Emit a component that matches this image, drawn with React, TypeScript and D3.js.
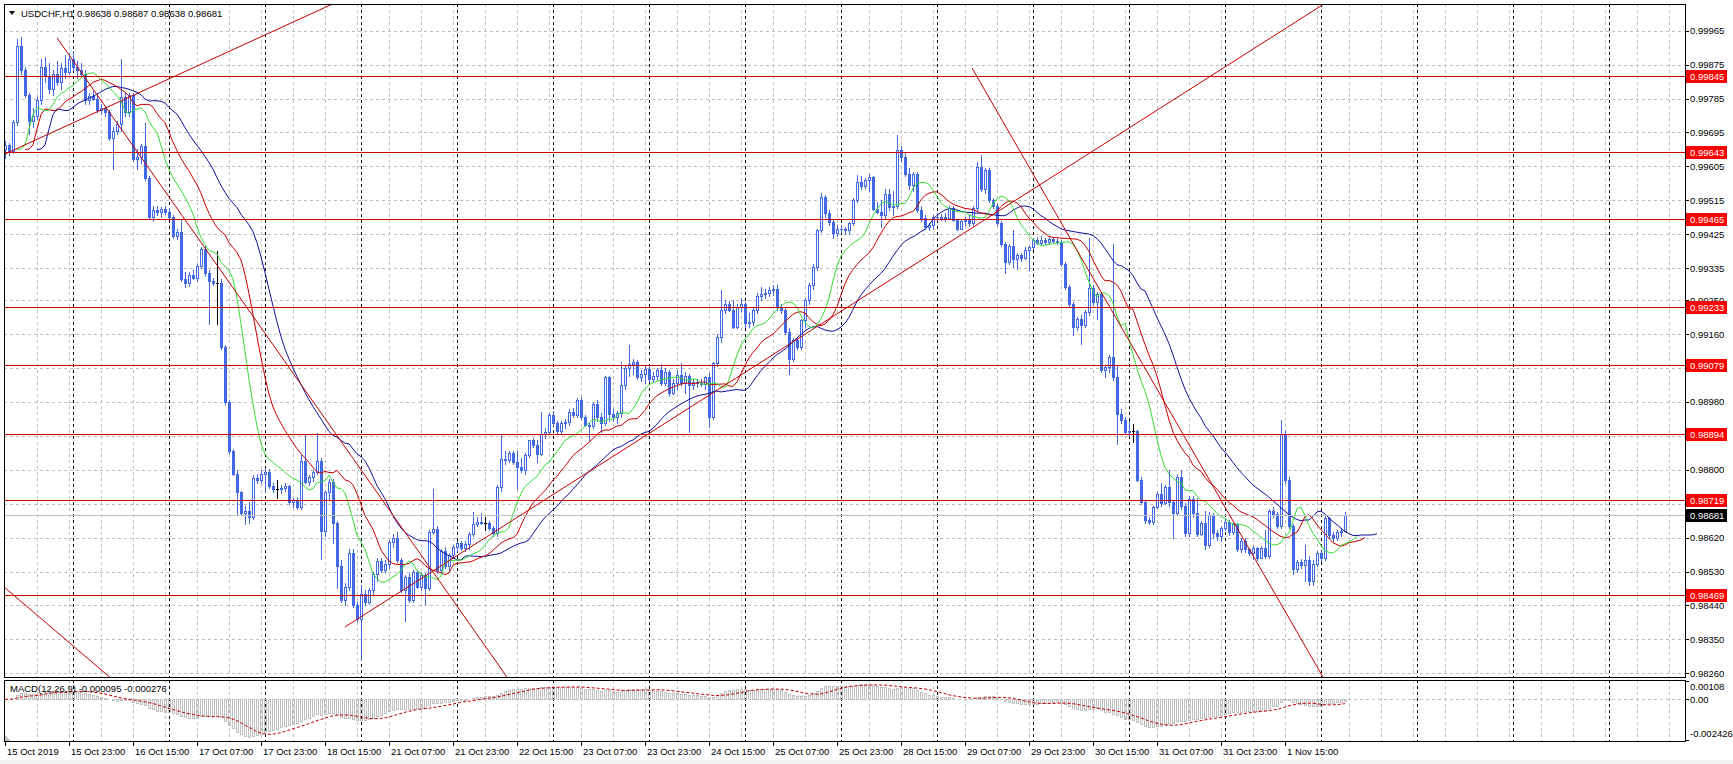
import React from 'react';
import * as d3 from 'd3';

// price = 0.98 + value / 100000
const BASE = 0.98;
const OPEN = [1650,1662,1645,1722,1925,1860,1795,1725,1740,1780,1870,1845,1810,1850,1830,1865,1855,1890,1870,1862,1850,1780,1792,1785,1755,1760,1748,1680,1700,1718,1790,1750,1795,1625,1630,1660,1575,1470,1490,1485,1492,1484,1470,1420,1432,1305,1295,1318,1310,1340,1385,1322,1300,1296,1296,1126,980,850,790,741,684,690,675,779,772,790,795,757,748,748,752,757,714,720,700,822,768,780,795,822,638,740,768,660,546,455,490,580,440,405,470,450,480,524,559,535,550,608,620,560,480,515,455,528,490,522,485,635,642,533,585,545,575,595,605,592,603,630,657,661,660,660,645,632,754,829,825,845,820,807,800,840,878,866,843,896,900,945,925,902,925,927,953,945,985,940,918,915,975,940,925,1046,949,940,950,1024,1070,1080,1085,1046,1055,1068,1040,1050,1065,1030,1060,1005,1030,1052,1030,1050,1025,1033,1030,1028,1045,940,1082,1153,1223,1241,1225,1179,1232,1241,1190,1192,1223,1260,1266,1270,1277,1280,1232,1225,1166,1095,1144,1126,1197,1250,1290,1339,1436,1524,1480,1458,1427,1440,1438,1436,1454,1516,1564,1552,1568,1577,1493,1485,1476,1533,1498,1500,1648,1631,1586,1555,1585,1489,1467,1445,1449,1471,1470,1472,1468,1495,1462,1440,1460,1462,1455,1495,1604,1545,1595,1515,1500,1454,1400,1352,1395,1360,1370,1362,1383,1390,1409,1402,1410,1405,1412,1408,1405,1347,1285,1241,1179,1200,1185,1219,1281,1245,1266,1064,1072,1100,1046,949,931,900,902,902,772,715,666,662,700,735,712,755,715,686,780,705,632,722,685,630,660,600,680,632,625,645,662,635,655,590,612,590,580,592,566,592,570,690,682,650,896,772,650,537,555,548,560,505,550,580,565,672,628,620,635,638];
const HIGH = [1672,1668,1728,1944,1948,1870,1800,1760,1790,1890,1895,1880,1860,1885,1880,1900,1905,1910,1885,1880,1860,1800,1805,1795,1770,1765,1755,1710,1725,1890,1800,1800,1800,1650,1665,1720,1580,1500,1500,1498,1500,1495,1475,1440,1465,1325,1325,1330,1345,1390,1395,1330,1310,1381,1305,1130,985,855,800,745,705,714,785,790,800,805,802,765,774,760,765,760,725,728,840,893,785,800,898,830,745,775,775,665,560,500,590,590,450,495,480,485,530,565,565,560,615,630,635,565,520,525,535,535,530,525,640,750,650,590,595,580,600,610,612,610,635,688,675,684,675,665,650,760,896,850,850,850,850,830,845,880,885,878,953,910,950,955,930,930,935,960,965,990,992,945,925,980,985,950,1050,1050,960,955,1086,1075,1130,1095,1090,1065,1075,1075,1060,1070,1080,1070,1065,1040,1065,1082,1060,1055,1040,1040,1042,1050,1058,1085,1160,1277,1250,1248,1250,1240,1255,1245,1215,1230,1268,1285,1280,1285,1290,1290,1240,1230,1175,1150,1150,1200,1255,1295,1345,1440,1535,1530,1490,1465,1450,1450,1445,1458,1520,1582,1580,1575,1585,1580,1510,1515,1545,1545,1540,1688,1660,1640,1600,1590,1590,1500,1475,1455,1475,1480,1478,1480,1500,1500,1465,1465,1470,1475,1500,1617,1635,1600,1600,1520,1505,1460,1405,1400,1436,1375,1375,1390,1395,1415,1418,1420,1415,1420,1415,1412,1410,1350,1290,1245,1205,1210,1225,1414,1290,1272,1270,1078,1105,1400,1075,960,940,930,922,905,780,720,675,705,740,765,760,800,720,790,800,712,730,730,725,665,690,688,685,640,652,670,668,660,658,620,620,592,598,595,598,640,695,700,688,931,905,780,655,560,562,600,572,560,585,585,680,675,635,640,645,687];
const LOW = [1628,1635,1640,1715,1850,1790,1690,1710,1730,1770,1830,1800,1795,1820,1810,1840,1850,1860,1840,1845,1770,1770,1780,1750,1745,1740,1675,1598,1690,1700,1740,1740,1620,1597,1615,1570,1465,1460,1475,1470,1478,1465,1415,1412,1300,1285,1288,1305,1300,1335,1315,1186,1290,1186,1120,975,845,785,682,680,655,660,670,765,765,740,752,740,725,738,745,710,700,695,695,765,760,770,790,563,625,720,606,487,450,440,480,436,400,296,440,445,470,505,530,530,540,595,555,475,400,450,450,485,480,445,480,630,525,525,540,535,565,585,588,585,590,625,650,655,640,640,625,625,745,815,820,815,750,795,790,835,860,820,840,885,895,920,895,895,910,920,940,940,935,915,880,910,930,900,920,930,930,925,940,1015,1050,1055,1040,1035,1030,1035,1035,1040,1025,1025,995,1000,1015,1025,1005,900,1015,1020,1022,1015,914,935,1075,1140,1215,1220,1175,1175,1220,1180,1180,1185,1215,1250,1255,1262,1265,1225,1215,1160,1055,1088,1120,1120,1180,1240,1280,1330,1430,1470,1450,1415,1420,1430,1425,1425,1450,1510,1545,1548,1540,1490,1480,1445,1465,1490,1475,1495,1620,1580,1545,1540,1485,1460,1440,1435,1440,1462,1462,1460,1465,1460,1435,1440,1450,1448,1450,1490,1540,1535,1510,1495,1450,1395,1321,1345,1338,1334,1355,1358,1330,1385,1398,1398,1400,1398,1402,1398,1340,1280,1235,1157,1170,1135,1180,1210,1238,1200,1060,1046,1060,1038,869,925,895,890,874,770,710,660,655,655,698,705,708,705,620,680,695,625,625,675,625,628,590,595,620,615,610,640,628,630,585,583,583,574,562,560,565,565,565,675,645,645,765,645,524,530,540,505,495,495,545,558,560,620,612,615,625,638];
const CLOSE = [1662,1645,1722,1925,1860,1795,1725,1740,1780,1870,1845,1810,1850,1830,1865,1855,1890,1870,1862,1850,1780,1792,1785,1755,1760,1748,1680,1700,1718,1790,1750,1795,1625,1630,1660,1575,1470,1490,1485,1492,1484,1470,1420,1432,1305,1295,1318,1310,1340,1385,1322,1300,1296,1296,1126,980,850,790,741,684,690,675,779,772,790,795,757,748,748,752,757,714,720,700,822,768,780,795,822,638,740,768,660,546,455,490,580,440,405,470,450,480,524,559,535,550,608,620,560,480,515,455,528,490,522,485,635,642,533,585,545,575,595,605,592,603,630,657,661,660,660,645,632,754,829,825,845,820,807,800,840,878,866,843,896,900,945,925,902,925,927,953,945,985,940,918,915,975,940,925,1046,949,940,950,1024,1070,1080,1085,1046,1055,1068,1040,1050,1065,1030,1060,1005,1030,1052,1030,1050,1025,1033,1030,1028,1045,940,1082,1153,1223,1241,1225,1179,1232,1241,1190,1192,1223,1260,1266,1270,1277,1280,1232,1225,1166,1095,1144,1126,1197,1250,1290,1339,1436,1524,1480,1458,1427,1440,1438,1436,1454,1516,1564,1552,1568,1577,1493,1485,1476,1533,1498,1500,1648,1631,1586,1555,1585,1489,1467,1445,1449,1471,1470,1472,1468,1495,1462,1440,1460,1462,1455,1495,1604,1545,1595,1515,1500,1454,1400,1352,1395,1360,1370,1362,1383,1390,1409,1402,1410,1405,1412,1408,1405,1347,1285,1241,1179,1200,1185,1219,1281,1245,1266,1064,1072,1100,1046,949,931,900,902,902,772,715,666,662,700,735,712,755,715,686,780,705,632,722,685,630,660,600,680,632,625,645,662,635,655,590,612,590,580,592,566,592,570,690,682,650,896,772,650,537,555,548,560,505,550,580,565,672,628,620,635,638,681];

const Y_TICKS = ['0.99965','0.99875','0.99785','0.99695','0.99605','0.99515','0.99425','0.99335','0.99250','0.99160','0.99070','0.98980','0.98890','0.98800','0.98710','0.98620','0.98530','0.98440','0.98350','0.98260'];
const H_LINES = [0.99845, 0.99643, 0.99465, 0.99233, 0.99079, 0.98894, 0.98719, 0.98469];
const LAST_PRICE = 0.98681;
const TIME_LABELS = ['15 Oct 2019','15 Oct 23:00','16 Oct 15:00','17 Oct 07:00','17 Oct 23:00','18 Oct 15:00','21 Oct 07:00','21 Oct 23:00','22 Oct 15:00','23 Oct 07:00','23 Oct 23:00','24 Oct 15:00','25 Oct 07:00','25 Oct 23:00','28 Oct 15:00','29 Oct 07:00','29 Oct 23:00','30 Oct 15:00','31 Oct 07:00','31 Oct 23:00','1 Nov 15:00'];
const MACD_TICKS = [0.00108, 0, -0.002426];
const MACD_TICK_TEXT = ['0.00108', '0.00', '-0.002426'];
// trend lines: [[barIndex, price], [barIndex, price]]
const TRENDS: [number, number][][] = [
  [[-1, 0.99633], [85, 1.00051]],
  [[13, 0.99946], [125.5, 0.98250]],
  [[-1, 0.98496], [26.25, 0.98249]],
  [[85, 0.98383], [329.75, 1.00036]],
  [[241.75, 0.99866], [329.5, 0.98250]],
];
const TITLE = 'USDCHF,H1  0.98638 0.98687 0.98638 0.98681';
const MACD_TITLE = 'MACD(12,26,9) -0.000095 -0.000276';

const FONT = '"Liberation Sans", Arial, sans-serif';
const FS = 9.5;

function smma(src: number[], n: number) {
  const out: number[] = [];
  let sum = 0;
  for (let i = 0; i < src.length; i++) {
    if (i < n) { sum += src[i]; out.push(sum / (i + 1)); }
    else out.push((out[i - 1] * (n - 1) + src[i]) / n);
  }
  return out;
}
function ema(src: number[], n: number) {
  const a = 2 / (n + 1);
  const out: number[] = [];
  src.forEach((v, i) => out.push(i === 0 ? v : out[i - 1] + a * (v - out[i - 1])));
  return out;
}
function sma(src: number[], n: number) {
  return src.map((_, i) => {
    const s = src.slice(Math.max(0, i - n + 1), i + 1);
    return d3.mean(s) as number;
  });
}

export default function App() {
  const L = 4, R = 1685, T = 4, MB = 677, PT = 680, PB = 741;
  const N = CLOSE.length;
  const x = d3.scaleLinear().domain([0, N - 1]).range([5, 5 + 4 * (N - 1)]);
  const y = d3.scaleLinear().domain([0.98260, 0.99965]).range([673.3, 30.7]);
  const my = d3.scaleLinear().domain([-0.002426, 0.00108]).range([740, 681]);
  const P = (v: number) => BASE + v / 100000;

  const o = OPEN.map(P), h = HIGH.map(P), l = LOW.map(P), c = CLOSE.map(P);
  const med = h.map((v, i) => (v + l[i]) / 2);
  const jaw = smma(med, 13), teeth = smma(med, 8), lips = smma(med, 5);
  const e12 = ema(c, 12), e26 = ema(c, 26);
  const macd = e12.map((v, i) => v - e26[i]);
  const signal = sma(macd, 9);

  const lineGen = (shift: number) => d3.line<number>().x((_, i) => x(i + shift)).y(v => y(v));
  const sigGen = d3.line<number>().x((_, i) => x(i)).y(v => my(v));

  const gridX: number[] = [];
  for (let i = 8; x(i) < R; i += 8) gridX.push(x(i));
  const sepX: number[] = [];
  for (let i = 17; x(i) < R; i += 24) sepX.push(x(i));

  const vlines = (ys: [number, number][]) => (
    <g>
      {gridX.map((gx, k) => ys.map((yy, j) => (
        <line key={'g' + k + '_' + j} x1={gx + 0.5} x2={gx + 0.5} y1={yy[0]} y2={yy[1]} stroke="#c0c0c0" strokeDasharray="3,3" />
      )))}
      {sepX.map((sx, k) => ys.map((yy, j) => (
        <line key={'s' + k + '_' + j} x1={sx + 0.5} x2={sx + 0.5} y1={yy[0]} y2={yy[1]} stroke="#000" strokeDasharray="3,3" />
      )))}
    </g>
  );

  const tagW = 41;

  return (
    <svg width={1733} height={764} style={{ position: 'absolute', left: 0, top: 0, display: 'block', background: '#fff' }} fontFamily={FONT} fontSize={FS}>
      <defs>
        <clipPath id="mainClip"><rect x={L} y={T} width={R - L} height={MB - T} /></clipPath>
        <clipPath id="macdClip"><rect x={L} y={PT} width={R - L} height={PB - PT} /></clipPath>
      </defs>
      <rect x={0} y={0} width={1733} height={764} fill="#fff" />
      <rect x={0} y={760} width={1733} height={4} fill="#f0f0f0" />

      {/* grids */}
      {Y_TICKS.map(t => (
        <line key={t} x1={L} x2={R} y1={Math.round(y(+t)) + 0.5} y2={Math.round(y(+t)) + 0.5} stroke="#c0c0c0" strokeDasharray="3,3" />
      ))}
      <line x1={L} x2={R} y1={Math.round(my(0)) + 0.5} y2={Math.round(my(0)) + 0.5} stroke="#c0c0c0" strokeDasharray="3,3" />
      {vlines([[T, MB], [PT, PB]])}

      {/* candles */}
      <g clipPath="url(#mainClip)">
        {c.map((cl, i) => {
          const cx = Math.round(x(i));
          const top = Math.round(y(Math.max(o[i], cl)));
          const bot = Math.round(y(Math.min(o[i], cl)));
          const col = OPEN[i] === CLOSE[i] ? '#000' : '#4169e1';
          const bull = cl > o[i];
          return (
            <g key={i}>
              <line x1={cx + 0.5} x2={cx + 0.5} y1={Math.round(y(h[i]))} y2={Math.round(y(l[i])) + 1} stroke={col} />
              {OPEN[i] === CLOSE[i] ? (
                <line x1={cx - 1} x2={cx + 2} y1={top + 0.5} y2={top + 0.5} stroke={col} />
              ) : bull ? (
                <rect x={cx - 0.5} y={top + 0.5} width={2} height={Math.max(1, bot - top)} fill="#fff" stroke={col} />
              ) : (
                <rect x={cx - 1} y={top} width={3} height={Math.max(1, bot - top + 1)} fill={col} />
              )}
            </g>
          );
        })}

        {/* alligator */}
        <path d={lineGen(8)(jaw) || ''} fill="none" stroke="#1010a0" strokeWidth={1} />
        <path d={lineGen(5)(teeth) || ''} fill="none" stroke="#c80000" strokeWidth={1} />
        <path d={lineGen(3)(lips) || ''} fill="none" stroke="#33dd33" strokeWidth={1} />

        {/* objects */}
        <line x1={L} x2={R} y1={Math.round(y(LAST_PRICE)) + 0.5} y2={Math.round(y(LAST_PRICE)) + 0.5} stroke="#c0c0c0" />
        {H_LINES.map(v => (
          <line key={v} x1={L} x2={R} y1={Math.round(y(v)) + 0.5} y2={Math.round(y(v)) + 0.5} stroke="#d00000" />
        ))}
        {TRENDS.map((t, k) => (
          <line key={k} x1={x(t[0][0])} y1={y(t[0][1])} x2={x(t[1][0])} y2={y(t[1][1])} stroke="#c00000" strokeWidth={1} />
        ))}
      </g>

      {/* MACD */}
      <g clipPath="url(#macdClip)">
        {macd.map((v, i) => {
          const cx = Math.round(x(i));
          const y0 = Math.round(my(0)), y1 = Math.round(my(v));
          return <rect key={i} x={cx - 0.5} y={Math.min(y0, y1) + 0.5} width={2} height={Math.max(0, Math.abs(y1 - y0))} fill="none" stroke="#c0c0c0" />;
        })}
        <path d={sigGen(signal) || ''} fill="none" stroke="#c00000" strokeDasharray="3,2" />
      </g>

      {/* frames */}
      <rect x={L + 0.5} y={T + 0.5} width={R - L} height={MB - T} fill="none" stroke="#000" />
      <rect x={L + 0.5} y={PT + 0.5} width={R - L} height={PB - PT} fill="none" stroke="#000" />
      <path d={`M${L + 1},${PB} L${L + 1},${PB - 6} L${L + 7},${PB} Z`} fill="#c0c0c0" />

      {/* price axis */}
      {Y_TICKS.map(t => (
        <g key={t}>
          <line x1={R} x2={R + 4} y1={Math.round(y(+t)) + 0.5} y2={Math.round(y(+t)) + 0.5} stroke="#000" />
          <text x={R + 5} y={y(+t)} dominantBaseline="central" fill="#000">{t}</text>
        </g>
      ))}
      {H_LINES.map(v => (
        <g key={v}>
          <rect x={R + 1} y={Math.round(y(v)) - 6} width={tagW} height={13} fill="#ff0000" />
          <text x={R + 5} y={Math.round(y(v)) + 0.5} dominantBaseline="central" fill="#fff">{v.toFixed(5)}</text>
        </g>
      ))}
      <rect x={R + 1} y={Math.round(y(LAST_PRICE)) - 6} width={tagW} height={13} fill="#000" />
      <text x={R + 5} y={Math.round(y(LAST_PRICE)) + 0.5} dominantBaseline="central" fill="#fff">{LAST_PRICE.toFixed(5)}</text>

      {/* MACD axis */}
      {MACD_TICKS.map((v, k) => (
        <g key={k}>
          <line x1={R} x2={R + 4} y1={Math.round(my(v)) + 0.5} y2={Math.round(my(v)) + 0.5} stroke="#000" />
          <text x={R + 5} y={k === 0 ? my(v) + 5 : k === 2 ? my(v) - 7 : my(v)} dominantBaseline="central" fill="#000">{MACD_TICK_TEXT[k]}</text>
        </g>
      ))}

      {/* time axis */}
      {TIME_LABELS.map((t, k) => {
        const tx = Math.round(x(k * 16));
        return (
          <g key={t}>
            <line x1={tx + 0.5} x2={tx + 0.5} y1={PB} y2={PB + 5} stroke="#000" />
            <text x={tx + 2} y={751} dominantBaseline="central" fill="#000">{t}</text>
          </g>
        );
      })}

      {/* titles */}
      <path d="M9,11 L15,11 L12,15 Z" fill="#000" />
      <text x={21} y={13} dominantBaseline="central" fill="#000">{TITLE}</text>
      <text x={10} y={688} dominantBaseline="central" fill="#000">{MACD_TITLE}</text>
    </svg>
  );
}
